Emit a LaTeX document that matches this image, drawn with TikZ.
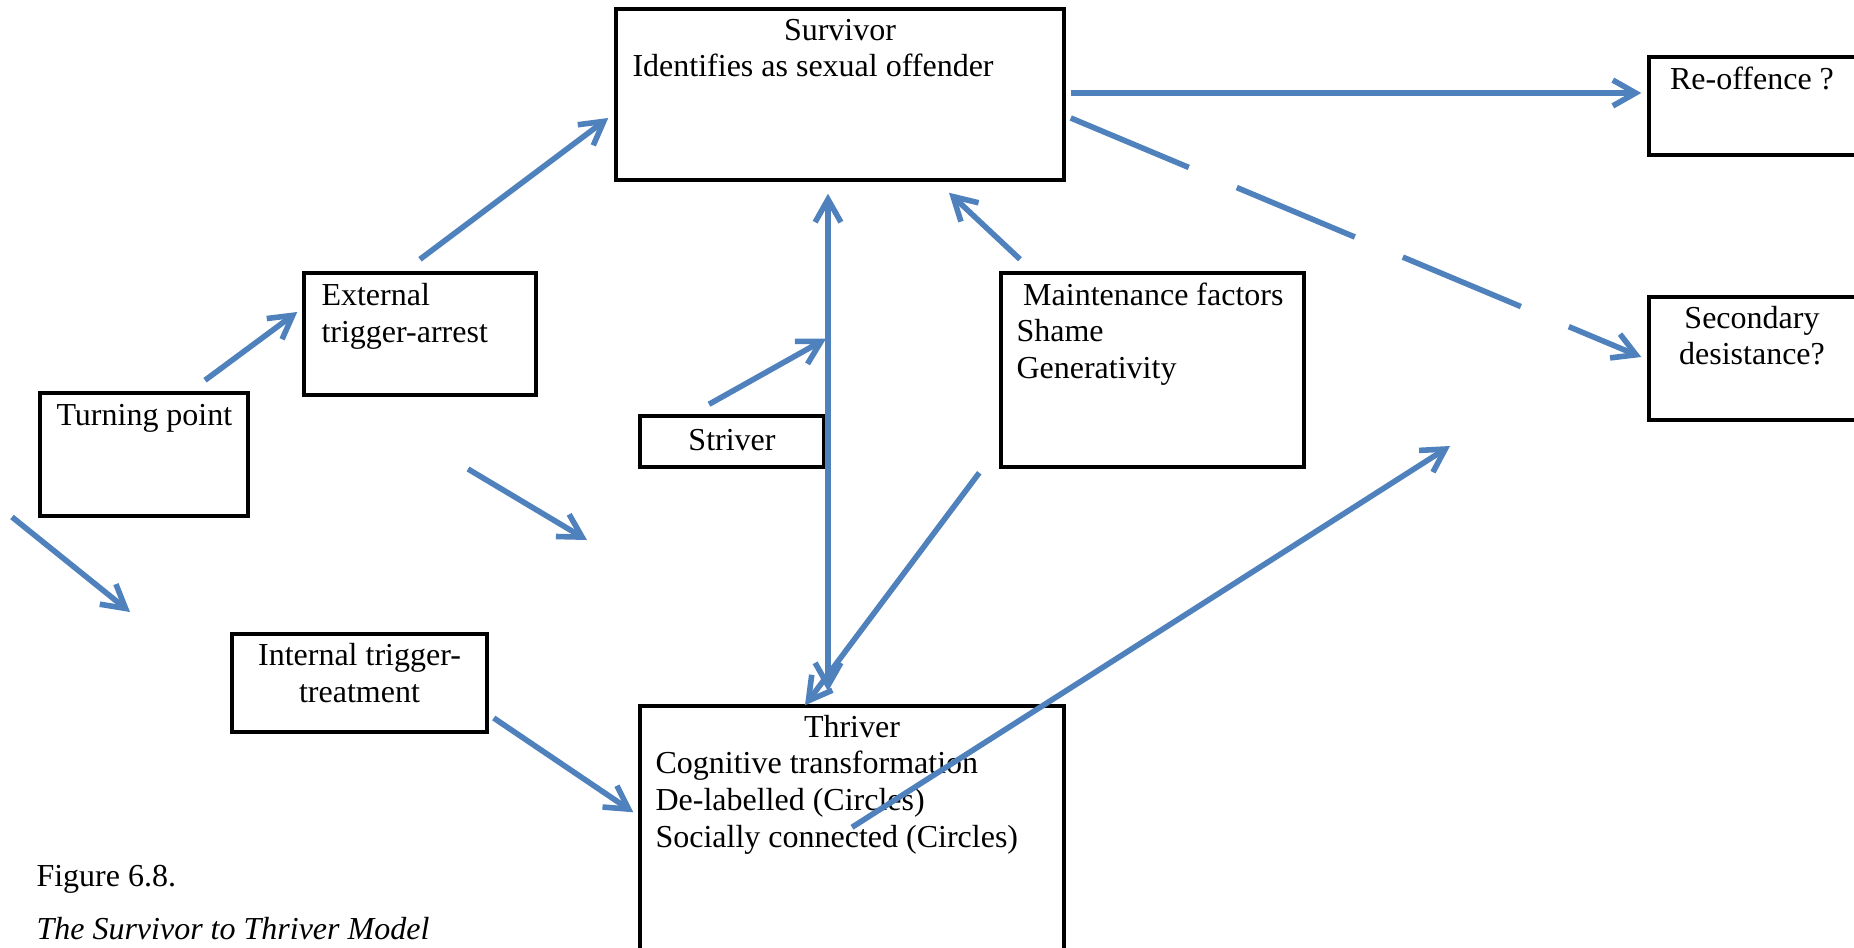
\documentclass[tikz,border=0pt]{standalone}
\usepackage{fontspec}
\setmainfont{Liberation Serif}
\usepackage{xcolor}
\usetikzlibrary{calc,arrows.meta}
\definecolor{bluex}{HTML}{4F81BD}
\tikzset{
  >={Straight Barb[length=3mm,width=3.4mm]},
  ar/.style={->,line width=2.1pt,bluex},
  panel/.style n args={2}{draw,line width=1.3pt,minimum width=#1*0.375pt,minimum height=#2*0.375pt,inner sep=0pt},
  txt/.style={inner sep=0pt,font=\fontsize{12}{13.76}\selectfont,align=left}
}

\begin{document}
\begin{tikzpicture}[x=0.375pt,y=-0.375pt]
\useasboundingbox (0,0) rectangle (1854,948);
\clip (0,0) rectangle (1854,948);
% boxes
\node[panel={448}{171}] (surv) at (840,94.5) {};
\node[panel={207}{98}] (reoff) at (1752.5,106) {};
\node[panel={207}{123}] (sec) at (1752.5,358.5) {};
\node[panel={232}{122}] (ext) at (420,334) {};
\node[panel={208}{123}] (turn) at (144,454.5) {};
\node[panel={184}{51}] (strv) at (732,441.5) {};
\node[panel={303}{194}] (maint) at (1152.5,370) {};
\node[panel={255}{98}] (intl) at (359.5,683) {};
\node[panel={424}{284}] (thr) at (852,848) {};
% texts (base = last line)
\node[txt,anchor=base] (survT) at (840,41) {Survivor};
\node[txt,anchor=base west] (survL) at (632,77) {Identifies as sexual offender};
\node[txt,anchor=base] (reoffT) at (1752,90) {Re-offence ?};
\node[txt,anchor=base,align=center] (secT) at (1752,365) {Secondary\\desistance?};
\node[txt,anchor=base west] (extT) at (321,342.5) {External\\trigger-arrest};
\node[txt,anchor=base west] (turnT) at (56,425.5) {Turning point};
\node[txt,anchor=base] (strvT) at (732,450) {Striver};
\node[txt,anchor=base west] (maintT) at (1016,378.5) {\hspace*{2.5pt}Maintenance factors\\Shame\\Generativity};
\node[txt,anchor=base,align=center] (intlT) at (359.5,702) {Internal trigger-\\treatment};
\node[txt,anchor=base] (thrT) at (852,737) {Thriver};
\node[txt,anchor=base west] (thrL) at (655,847) {Cognitive transformation\\De-labelled (Circles)\\Socially connected (Circles)};
\node[txt,anchor=base west] (figT) at (36,886) {Figure 6.8.};
\node[txt,anchor=base west] (figC) at (36,939) {\itshape The Survivor to Thriver Model};
% free ends
\coordinate (vtop) at ($(surv.south)+(-12,12)$);
\coordinate (vbot) at ($(thr.north)+(-24,-13)$);
\coordinate (vjoin) at ($(vtop)+(-2,145)$);
\coordinate (fa1) at (468,469);
\coordinate (fa2) at (587,540);
\coordinate (fb1) at (12,517);
\coordinate (fb2) at (130,612);
\coordinate (fc) at (1450,446);
% connectors
\draw[ar] ($(surv.east)+(5,-1.5)$) -- ($(reoff.west)+(-6,-13)$);
\draw[ar,dash pattern=on 48pt off 19.5pt] ($(surv.east)+(5,23.5)$) -- ($(sec.west)+(-6,-1.5)$);
\draw[ar] ($(ext.north)+(0,-12)$) -- ($(surv.west)+(-6,23.5)$);
\draw[ar] ($(turn.north)+(61,-11)$) -- ($(ext.west)+(-5,-22)$);
\draw[ar] (fa1) -- (fa2);
\draw[ar] (fb1) -- (fb2);
\draw[ar] ($(intl.east)+(5,35)$) -- ($(thr.north west)+(-5,108)$);
\draw[ar] ($(strv.north)+(-23,-10)$) -- (vjoin);
\draw[ar,<->] (vtop) -- (vbot);
\draw[ar] ($(maint.north)+(-132.5,-12)$) -- ($(surv.south)+(109,11)$);
\draw[ar] ($(maint.south west)+(-20,4)$) -- ($(thr.north)+(-47,1)$);
\draw[ar] ($(thr.north)+(0,123)$) -- (fc);
\end{tikzpicture}
\end{document}
